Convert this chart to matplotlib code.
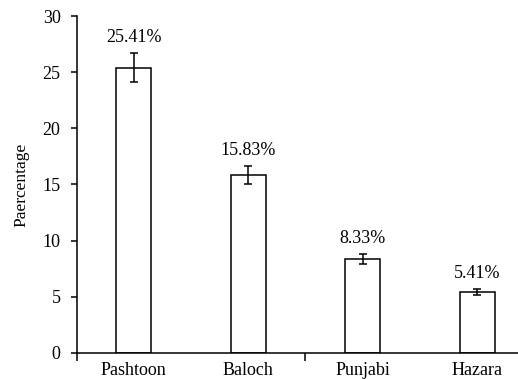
import matplotlib
matplotlib.use("Agg")
import matplotlib.pyplot as plt
from matplotlib.ticker import FixedLocator

# Ethnic group shares with error margins
groups = ["Pashtoon", "Baloch", "Punjabi", "Hazara"]
shares = [25.41, 15.83, 8.33, 5.41]
errors = [1.3, 0.8, 0.45, 0.27]
value_labels = ["25.41%", "15.83%", "8.33%", "5.41%"]
y_ticks = [0, 5, 10, 15, 20, 25, 30]

plt.rcParams["font.family"] = ["Liberation Serif", "DejaVu Serif"]
plt.rcParams["font.size"] = 13

fig = plt.figure(figsize=(5.18, 3.79), dpi=100)
ax = fig.add_axes([0.1477, 0.0694, 0.884, 0.888])

x = list(range(len(groups)))
ax.bar(x, shares, width=0.306, color="white", edgecolor="black", linewidth=1.1,
       zorder=2)
ax.errorbar(x, shares, yerr=errors, fmt="none", ecolor="black", elinewidth=1.1,
            capsize=2.6, capthick=1.1, zorder=3)

for xi, v, e, lab in zip(x, shares, errors, value_labels):
    ax.annotate(lab, (xi, v + e), xytext=(0, 5), textcoords="offset points",
                ha="center", va="bottom", fontsize=13)

ax.set_xlim(-0.5, 3.5)
ax.set_ylim(0, 30)
ax.set_yticks(y_ticks)
ax.set_xticks(x)
ax.set_xticklabels(groups)
ax.xaxis.set_minor_locator(FixedLocator([-0.5, 1.5, 3.5]))
ax.tick_params(axis="x", which="major", length=0, pad=7, labelsize=13)
ax.tick_params(axis="x", which="minor", length=5.5, width=1.1, direction="out")
ax.tick_params(axis="y", length=4.5, width=1.1, direction="out", pad=7,
               labelsize=13)

for side in ("top", "right"):
    ax.spines[side].set_visible(False)
for side in ("left", "bottom"):
    ax.spines[side].set_linewidth(1.1)

ax.set_ylabel("Paercentage", fontsize=12.5, labelpad=9)

fig.savefig("out.png", dpi=100)
